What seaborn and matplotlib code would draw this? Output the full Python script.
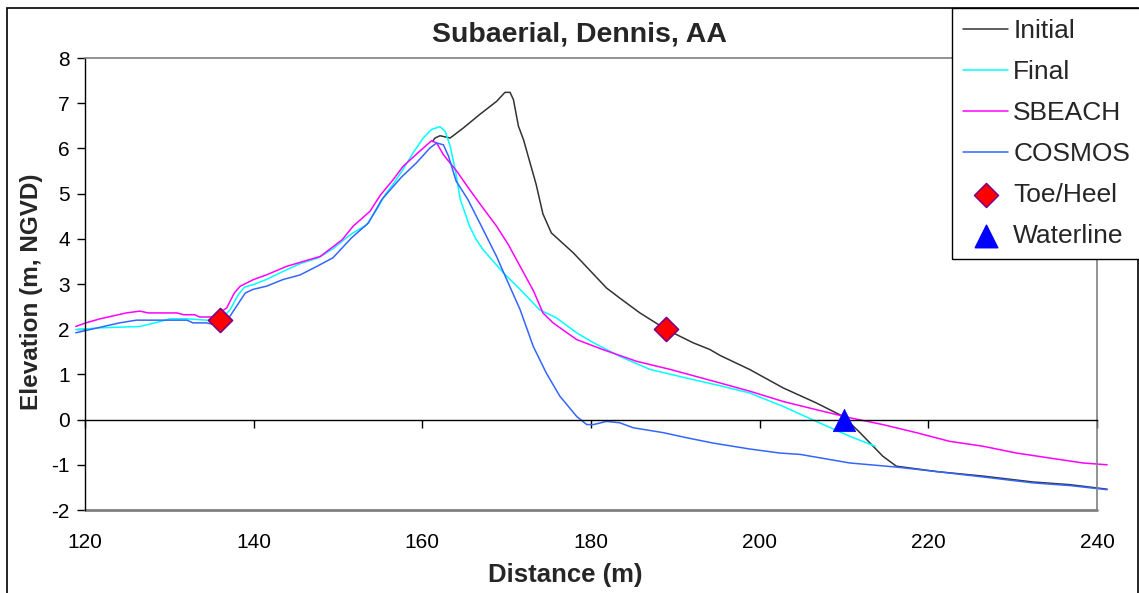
import matplotlib
matplotlib.use("Agg")
import matplotlib.pyplot as plt
import seaborn as sns
from matplotlib.patches import Rectangle

# ---------------- data ----------------
initial_x = [161.2, 161.5, 162.1, 163.3, 164.85, 166.8, 168.8, 169.8, 170.4, 170.8, 171.4, 172.0,
             173.0, 173.5, 174.3, 175.3, 177.9, 181.85, 183.4, 185.8, 188.96, 192.1, 194.1, 195.3,
             198.8, 202.8, 206.7, 208.3, 209.9, 211.9, 214.6, 216.2, 221.0, 226.5, 232.4, 236.8, 241.2]
initial_y = [6.15, 6.23, 6.28, 6.23, 6.45, 6.75, 7.04, 7.24, 7.24, 7.08, 6.49, 6.19,
             5.53, 5.20, 4.55, 4.13, 3.69, 2.91, 2.69, 2.36, 1.99, 1.70, 1.55, 1.42,
             1.11, 0.70, 0.37, 0.22, 0.07, -0.29, -0.81, -1.03, -1.15, -1.25, -1.38, -1.44, -1.54]

final_x = [118.9, 121.8, 126.5, 128.5, 130.1, 132.1, 134.4, 136.0, 137.2, 138.2, 138.9, 140.0,
           141.5, 143.5, 145.5, 147.7, 149.4, 151.6, 153.4, 154.6, 155.6, 156.5, 157.7, 158.9,
           160.1, 161.1, 162.1, 162.7, 163.3, 163.9, 164.5, 165.6, 166.4, 167.2, 169.6, 171.6,
           173.9, 175.9, 178.3, 180.3, 183.4, 187.0, 191.3, 195.3, 198.8, 202.8, 206.7, 210.7, 213.7]
final_y = [1.99, 2.03, 2.06, 2.15, 2.23, 2.23, 2.20, 2.20, 2.43, 2.77, 2.93, 2.99,
           3.10, 3.28, 3.45, 3.58, 3.78, 4.11, 4.31, 4.65, 4.98, 5.20, 5.53, 5.90,
           6.23, 6.42, 6.48, 6.38, 6.05, 5.53, 4.87, 4.28, 3.98, 3.76, 3.25, 2.88,
           2.43, 2.25, 1.92, 1.70, 1.40, 1.11, 0.92, 0.75, 0.59, 0.29, -0.04, -0.37, -0.59]

sbeach_x = [118.9, 120.1, 121.8, 124.9, 126.5, 127.5, 130.9, 131.7, 133.0, 133.6, 135.2, 136.8,
            137.7, 138.4, 140.0, 141.5, 143.9, 147.9, 150.5, 151.8, 153.8, 155.0, 156.55, 157.7,
            159.7, 161.1, 161.7, 162.5, 164.1, 165.6, 167.2, 168.8, 170.2, 171.6, 173.2, 174.3,
            175.5, 178.3, 181.4, 185.4, 189.4, 195.3, 198.8, 202.8, 206.7, 210.7, 214.6, 218.6,
            222.5, 226.5, 230.45, 234.4, 238.35, 241.2]
sbeach_y = [2.06, 2.14, 2.23, 2.36, 2.40, 2.36, 2.36, 2.32, 2.32, 2.27, 2.27, 2.47,
            2.80, 2.95, 3.10, 3.20, 3.39, 3.61, 3.98, 4.28, 4.61, 4.96, 5.31, 5.60,
            5.94, 6.17, 6.12, 5.86, 5.49, 5.09, 4.68, 4.28, 3.87, 3.39, 2.84, 2.36,
            2.14, 1.77, 1.55, 1.29, 1.11, 0.81, 0.63, 0.40, 0.22, 0.04, -0.11, -0.29,
            -0.48, -0.59, -0.74, -0.85, -0.96, -1.00]

cosmos_x = [118.9, 124.1, 126.1, 132.1, 132.8, 134.4, 135.4, 137.2, 139.0, 139.9, 141.5, 143.5,
            145.5, 147.7, 149.4, 151.6, 153.6, 155.2, 157.5, 159.3, 160.9, 161.7, 162.5, 163.1,
            164.0, 165.4, 167.0, 168.8, 170.0, 171.6, 173.15, 174.7, 176.3, 178.3, 179.5, 180.3,
            181.85, 183.4, 185.0, 188.6, 191.3, 194.5, 198.8, 202.4, 204.8, 210.7, 216.2, 221.0,
            226.5, 232.4, 236.8, 241.2]
cosmos_y = [1.92, 2.14, 2.20, 2.20, 2.14, 2.14, 2.10, 2.29, 2.80, 2.88, 2.95, 3.10,
            3.20, 3.41, 3.58, 4.02, 4.35, 4.87, 5.36, 5.68, 6.01, 6.12, 6.08, 5.83,
            5.28, 4.87, 4.28, 3.61, 3.10, 2.43, 1.62, 1.03, 0.52, 0.07, -0.11, -0.11,
            -0.04, -0.07, -0.18, -0.29, -0.40, -0.52, -0.65, -0.74, -0.77, -0.96, -1.05, -1.15,
            -1.27, -1.40, -1.46, -1.55]

toe_x = [136.0, 188.9]
toe_y = [2.2, 2.0]
water_x = [210.0]
water_y = [0.0]

x_ticks = [120, 140, 160, 180, 200, 220, 240]
y_ticks = [-2, -1, 0, 1, 2, 3, 4, 5, 6, 7, 8]

# ---------------- style ----------------
sns.set_style("white")
plt.rcParams['font.family'] = ['Liberation Sans', 'DejaVu Sans']
plt.rcParams['axes.unicode_minus'] = False

fig = plt.figure(figsize=(11.39, 5.93), dpi=100)
ax = fig.add_axes([85/1139, 1-510/593, (1097-85)/1139, (510-58)/593])

lw = 1.1
series = [
    (initial_x, initial_y, "#333333", "Initial"),
    (final_x, final_y, "#00FFFF", "Final"),
    (sbeach_x, sbeach_y, "#FF00FF", "SBEACH"),
    (cosmos_x, cosmos_y, "#3366FF", "COSMOS"),
]
for xs, ys, c, lab in series:
    sns.lineplot(x=xs, y=ys, ax=ax, color=c, lw=lw, label=lab, sort=False,
                 estimator=None, legend=False)
for ln in ax.lines:
    ln.set_clip_on(False)

sns.scatterplot(x=toe_x, y=toe_y, ax=ax, marker="D", s=150, color="#FF0000",
                edgecolor="#800080", linewidth=1.2, label="Toe/Heel", legend=False, zorder=5,
                clip_on=False)
sns.scatterplot(x=water_x, y=water_y, ax=ax, marker="^", s=260, color="#0000FF",
                edgecolor="#0000FF", linewidth=0.5, label="Waterline", legend=False, zorder=5,
                clip_on=False)

ax.set_xlim(120, 240)
ax.set_ylim(-2, 8)
ax.set_xticks(x_ticks)
ax.set_yticks(y_ticks)
ax.set_xlabel("")
ax.set_ylabel("")

# spines
for s in ["top", "right"]:
    ax.spines[s].set_color("#808080")
    ax.spines[s].set_linewidth(1.2)
ax.spines["left"].set_color("#000000")
ax.spines["left"].set_linewidth(1.0)
ax.spines["bottom"].set_position(("data", 0))
ax.spines["bottom"].set_color("#000000")
ax.spines["bottom"].set_linewidth(1.0)
ax.axhline(-2, color="#808080", lw=2.0, clip_on=False, zorder=1)

ax.tick_params(axis="y", direction="out", length=6, width=1, colors="#000000",
               labelsize=15, pad=5, left=True)
ax.tick_params(axis="x", direction="out", length=6, width=1, colors="#000000",
               labelsize=15, pad=76, bottom=True)

# title and axis labels
fig.text(580/1139, 1-34/593, "Subaerial, Dennis, AA", ha="center", va="center",
         fontsize=20.5, fontweight="bold")
fig.text(565/1139, 1-575/593, "Distance (m)", ha="center", va="center",
         fontsize=18.5, fontweight="bold")
fig.text(32/1139, 1-292/593, "Elevation (m, NGVD)", ha="center", va="center",
         fontsize=17.5, fontweight="bold", rotation=90)

# figure border
fig.add_artist(Rectangle((7/1139, -0.05), (1138-7)/1139, 1.05-8/593, transform=fig.transFigure,
                         fill=False, edgecolor="#000000", lw=1.2))

# legend
handles, labels = ax.get_legend_handles_labels()
leg = fig.legend(handles, labels, loc="upper left", bbox_to_anchor=(952/1139, 1-8/593),
                 borderaxespad=0, fancybox=False, shadow=False, framealpha=1,
                 edgecolor="#000000", fontsize=19, handlelength=1.7, handletextpad=0.2,
                 labelspacing=0.64, borderpad=0.42, markerscale=1.0)
leg.get_frame().set_linewidth(1.0)
for lh in leg.legend_handles:
    try:
        lh.set_linewidth(lw)
    except Exception:
        pass

fig.savefig("out.png", dpi=100, facecolor="white")
